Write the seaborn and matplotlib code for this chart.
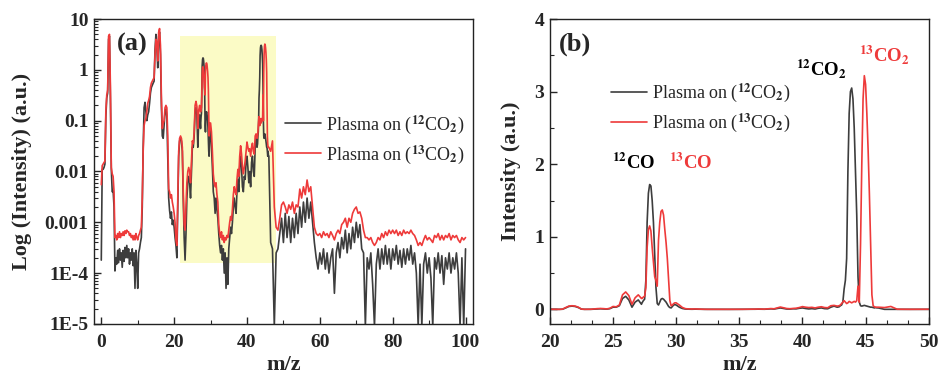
import numpy as np
import pandas as pd
import matplotlib
matplotlib.use('Agg')
import matplotlib.pyplot as plt
import seaborn as sns
from matplotlib.ticker import MultipleLocator, AutoMinorLocator, LogLocator, FuncFormatter, NullFormatter

# mass spectra, intensity (a.u.)
# segment a: m/z 0 - 27.25, every 0.25
co2_12_a = [1.8e-4, 0.011, 0.011, 0.012, 0.014, 0.12, 0.28, 0.35, 4.0, 4.6,
            0.3, 0.011, 0.004, 0.0042, 0.002, 1.1e-4, 2e-4, 1.5e-4, 2.8e-4, 1.6e-4,
            3e-4, 1.8e-4, 2.5e-4, 1.3e-4, 2.8e-4, 1.7e-4, 3.2e-4, 2e-4, 3.5e-4, 2e-4,
            3e-4, 1.5e-4, 2.5e-4, 1.8e-4, 3e-4, 1.4e-4, 2.5e-4, 5e-5, 2.8e-4, 1.5e-4,
            5e-5, 2.5e-4, 3e-4, 4e-4, 5e-4, 0.002, 0.03, 0.18, 0.23, 0.15,
            0.1, 0.13, 0.15, 0.22, 0.35, 0.45, 0.5, 0.55, 0.6, 2.5,
            5.0, 3.0, 1.1, 4.5, 5.5, 2.0, 0.2, 0.05, 0.045, 0.08,
            0.15, 0.17, 0.12, 0.02, 0.003, 0.0017, 0.0012, 0.0016, 9e-4, 0.0011,
            8e-4, 5e-4, 3.5e-4, 2e-4, 0.002, 0.02, 0.04, 0.045, 0.04, 0.025,
            0.003, 5e-4, 1.8e-4, 6e-4, 0.003, 0.006, 0.008, 0.006, 0.003, 0.01,
            0.03, 0.03, 0.05, 0.15, 0.18, 0.13, 0.03, 0.1, 0.13, 0.07]
co2_13_a = [5.5e-3, 0.013, 0.014, 0.015, 0.016, 0.15, 0.32, 0.4, 4.6, 5.0,
            0.5, 0.012, 0.009, 0.008, 0.004, 5e-4, 5.5e-4, 4.5e-4, 6e-4, 5e-4,
            6.5e-4, 5e-4, 6e-4, 5.5e-4, 6.5e-4, 5.5e-4, 6.8e-4, 6e-4, 7e-4, 6.5e-4,
            6.5e-4, 5.5e-4, 6e-4, 5e-4, 5.5e-4, 4.5e-4, 5.5e-4, 4.5e-4, 6e-4, 5e-4,
            4.5e-4, 5.5e-4, 6e-4, 7e-4, 8e-4, 0.003, 0.025, 0.08, 0.1, 0.11,
            0.15, 0.22, 0.25, 0.3, 0.45, 0.55, 0.6, 0.65, 0.7, 2.0,
            4.0, 3.5, 1.5, 5.5, 6.5, 3.0, 0.3, 0.07, 0.09, 0.1,
            0.18, 0.2, 0.18, 0.05, 0.0045, 0.004, 0.003, 0.0035, 0.0025, 0.002,
            0.0015, 0.001, 4.5e-4, 3.5e-4, 0.003, 0.025, 0.045, 0.05, 0.045, 0.03,
            0.004, 9e-4, 7e-4, 0.002, 0.006, 0.01, 0.012, 0.01, 0.006, 0.015,
            0.04, 0.035, 0.06, 0.2, 0.24, 0.19, 0.07, 0.16, 0.2, 0.15]

# segment b: m/z 27.3 - 29.9, every 0.1 (CO peaks)
co2_12_b = [0.09, 0.12, 0.14, 0.4, 1.2, 1.6, 1.72, 1.7, 1.5, 1.2,
            0.75, 0.3, 0.08, 0.06, 0.1, 0.14, 0.15, 0.14, 0.12, 0.1,
            0.07, 0.04, 0.025, 0.02, 0.04, 0.06, 0.065]
co2_13_b = [0.15, 0.17, 0.18, 0.3, 0.85, 1.1, 1.15, 1.08, 0.85, 0.65,
            0.45, 0.4, 0.32, 0.95, 1.2, 1.35, 1.37, 1.3, 1.1, 0.92,
            0.7, 0.4, 0.12, 0.05, 0.06, 0.08, 0.09]

# segment c: m/z 30.0 - 42.75, every 0.25
co2_12_c = [0.06, 0.03, 0.012, 0.004, 0.003, 0.0015, 0.003, 0.0018, 0.0012, 6e-4,
            3.5e-4, 2.5e-4, 3.5e-4, 1.8e-4, 3e-4, 1e-4, 2.5e-4, 5e-5, 2e-4, 6e-5,
            3e-4, 5e-4, 8e-4, 6e-4, 0.001, 0.002, 0.003, 0.002, 0.0015, 0.004,
            0.007, 0.004, 0.012, 0.02, 0.012, 0.005, 0.004, 0.008, 0.007, 0.015,
            0.02, 0.012, 0.006, 0.01, 0.005, 0.015, 0.02, 0.01, 0.008, 0.03,
            0.045, 0.03]
co2_13_c = [0.09, 0.06, 0.025, 0.009, 0.006, 0.005, 0.006, 0.0035, 0.0025, 9e-4,
            6e-4, 5e-4, 6.5e-4, 4.5e-4, 5.5e-4, 4e-4, 5e-4, 4.5e-4, 5.5e-4, 5e-4,
            7e-4, 0.001, 0.0013, 0.0011, 0.0018, 0.0035, 0.005, 0.004, 0.0035, 0.007,
            0.011, 0.008, 0.02, 0.032, 0.022, 0.012, 0.009, 0.012, 0.016, 0.025,
            0.038, 0.03, 0.025, 0.028, 0.02, 0.03, 0.036, 0.025, 0.022, 0.05,
            0.055, 0.045]

# segment d: m/z 42.9 - 45.9, every 0.1 (CO2 peaks)
co2_12_d = [0.035, 0.05, 0.06, 0.1, 0.28, 0.4, 0.7, 1.9, 2.7, 3.0,
            3.05, 2.9, 2.5, 1.9, 1.3, 0.45, 0.1, 0.05, 0.045, 0.05,
            0.055, 0.05, 0.045, 0.04, 0.035, 0.03, 0.03, 0.025, 0.02, 0.025, 0.02]
co2_13_d = [0.05, 0.06, 0.08, 0.1, 0.12, 0.1, 0.08, 0.09, 0.11, 0.1,
            0.09, 0.1, 0.11, 0.1, 0.12, 0.32, 0.1, 0.9, 2.0, 2.9,
            3.22, 3.1, 2.7, 2.2, 1.6, 0.9, 0.2, 0.05, 0.035, 0.03, 0.03]

# segment e: m/z 46.0 - 100.0, every 0.5
co2_12_e = [0.02, 4e-4, 3e-4, 9e-6, 2.5e-4, 3e-4, 6e-4, 0.0012, 4e-4, 0.0015,
            5e-4, 0.0013, 4e-4, 0.0012, 5e-4, 0.0015, 6e-4, 0.002, 8e-4, 0.0025,
            0.001, 0.003, 0.0012, 0.0025, 0.001, 4e-4, 2e-4, 1.2e-4, 2.5e-4, 1.5e-4,
            3e-4, 1.2e-4, 2.5e-4, 1e-4, 2e-4, 3e-4, 4e-5, 2.5e-4, 4e-4, 2e-4,
            5e-4, 3e-4, 7e-4, 2.5e-4, 6e-4, 3e-4, 8e-4, 4e-4, 0.001, 5e-4,
            9e-4, 3e-4, 2.5e-4, 9e-6, 2e-4, 1.2e-4, 2.5e-4, 6e-5, 9e-6, 1.5e-4,
            3e-4, 1.2e-4, 3e-4, 1.5e-4, 3.5e-4, 1.5e-4, 3e-4, 1.2e-4, 3e-4, 1.8e-4,
            3.5e-4, 1.5e-4, 2.8e-4, 1.3e-4, 3e-4, 1.5e-4, 3e-4, 1.8e-4, 3.5e-4, 1.5e-4,
            2.5e-4, 1e-4, 9e-6, 1.5e-4, 9e-6, 1.5e-4, 2.5e-4, 1e-4, 2e-4, 8e-5,
            9e-6, 2e-4, 1.2e-4, 2.5e-4, 1e-4, 2.2e-4, 6e-5, 2e-4, 1.2e-4, 2.5e-4,
            1e-4, 2e-4, 1.2e-4, 2.5e-4, 1e-4, 9e-6, 2e-4, 9e-6, 3e-4]
co2_13_e = [0.03, 0.025, 0.04, 0.002, 8e-4, 7e-4, 0.0012, 0.0022, 0.0025, 0.002,
            0.0015, 0.0022, 0.0018, 0.0025, 0.0015, 0.0022, 0.002, 0.0045, 0.003, 0.005,
            0.0035, 0.0068, 0.004, 0.005, 0.002, 8e-4, 6e-4, 5.5e-4, 6e-4, 5e-4,
            6.5e-4, 5.5e-4, 6e-4, 5e-4, 6.5e-4, 5.5e-4, 4.5e-4, 6e-4, 7e-4, 6e-4,
            9e-4, 0.001, 0.0012, 8e-4, 0.0012, 0.001, 0.0015, 0.0018, 0.002, 0.0015,
            0.0016, 0.0012, 7e-4, 5e-4, 5e-4, 4.5e-4, 5e-4, 4e-4, 3.5e-4, 4e-4,
            5e-4, 4.5e-4, 6e-4, 5e-4, 6.5e-4, 5.5e-4, 7e-4, 6e-4, 7e-4, 6e-4,
            7e-4, 5.5e-4, 6.5e-4, 5.5e-4, 7e-4, 6e-4, 6.5e-4, 6e-4, 7e-4, 6e-4,
            5.5e-4, 4.5e-4, 3.5e-4, 4e-4, 3.5e-4, 4.5e-4, 5.5e-4, 4.5e-4, 5e-4, 4.5e-4,
            4e-4, 5.5e-4, 5e-4, 6e-4, 4.5e-4, 5.5e-4, 4.5e-4, 5.5e-4, 5e-4, 6e-4,
            4.5e-4, 5.5e-4, 5e-4, 5.5e-4, 4.5e-4, 4e-4, 5e-4, 4.5e-4, 5e-4]

seg_start = [0.0, 27.3, 30.0, 42.9, 46.0]
seg_step = [0.25, 0.1, 0.25, 0.1, 0.5]
seg_12 = [co2_12_a, co2_12_b, co2_12_c, co2_12_d, co2_12_e]
seg_13 = [co2_13_a, co2_13_b, co2_13_c, co2_13_d, co2_13_e]

log_ticks = [1e-5, 1e-4, 1e-3, 1e-2, 1e-1, 1, 10]
log_labels = ['1E-5', '1E-4', '0.001', '0.01', '0.1', '1', '10']

lab12 = r'Plasma on ($^{12}$CO$_2$)'
lab13 = r'Plasma on ($^{13}$CO$_2$)'
BLACK = '#3d3d3d'
RED = '#ee3a3a'

# build the long table
mz, i12, i13 = [], [], []
for s0, ds, a, b in zip(seg_start, seg_step, seg_12, seg_13):
    assert len(a) == len(b)
    mz.extend(np.round(s0 + ds * np.arange(len(a)), 2))
    i12.extend(a)
    i13.extend(b)
df = pd.DataFrame({'mz': mz, 'co2_12': i12, 'co2_13': i13})

sns.set_style('ticks')
plt.rcParams['font.family'] = ['Liberation Serif', 'DejaVu Serif']
plt.rcParams['font.weight'] = 'bold'
plt.rcParams['mathtext.fontset'] = 'stix'
plt.rcParams['axes.linewidth'] = 1.0
plt.rcParams['axes.edgecolor'] = '#222222'

fig = plt.figure(figsize=(9.4, 3.74), dpi=100)
ax1 = fig.add_axes([0.100, 0.134, 0.403, 0.815])
ax2 = fig.add_axes([0.585, 0.134, 0.403, 0.815])

##############################################################################
# (a) log scale, full range
ax1.fill_between([21.5, 48], 1.6e-4, 4.6, color='#fbfbc6', lw=0, zorder=0)
sns.lineplot(data=df, x='mz', y='co2_12', ax=ax1, color=BLACK, lw=1.2, label=lab12, estimator=None)
sns.lineplot(data=df, x='mz', y='co2_13', ax=ax1, color=RED, lw=1.2, label=lab13, estimator=None)
ax1.set_yscale('log')
ax1.set_xlim(-2, 102)
ax1.set_ylim(1e-5, 10)
ax1.xaxis.set_major_locator(MultipleLocator(20))
ax1.xaxis.set_minor_locator(AutoMinorLocator(2))
ax1.set_yticks(log_ticks)
ax1.yaxis.set_major_formatter(FuncFormatter(lambda v, p: log_labels[log_ticks.index(v)] if v in log_ticks else ''))
ax1.yaxis.set_minor_locator(LogLocator(base=10, subs=np.arange(2, 10)))
ax1.yaxis.set_minor_formatter(NullFormatter())
ax1.set_xlabel('m/z', fontsize=16, fontweight='bold', labelpad=3)
ax1.set_ylabel('Log (Intensity) (a.u.)', fontsize=16, fontweight='bold', labelpad=9)
ax1.text(0.06, 0.955, '(a)', transform=ax1.transAxes, fontsize=19, fontweight='bold', va='top')
ax1.legend(loc='center left', bbox_to_anchor=(0.504, 0.605), frameon=False,
           prop={'weight': 'normal', 'size': 13}, handlelength=2.0, handletextpad=0.3,
           borderpad=0, borderaxespad=0, labelspacing=0.4)

##############################################################################
# (b) linear scale, zoom on CO / CO2
sns.lineplot(data=df, x='mz', y='co2_12', ax=ax2, color=BLACK, lw=1.2, label=lab12, estimator=None)
sns.lineplot(data=df, x='mz', y='co2_13', ax=ax2, color=RED, lw=1.2, label=lab13, estimator=None)
ax2.set_xlim(20, 50)
ax2.set_ylim(-0.2, 4)
ax2.xaxis.set_major_locator(MultipleLocator(5))
ax2.xaxis.set_minor_locator(AutoMinorLocator(3))
ax2.yaxis.set_major_locator(MultipleLocator(1))
ax2.yaxis.set_minor_locator(AutoMinorLocator(2))
ax2.set_xlabel('m/z', fontsize=16, fontweight='bold', labelpad=3)
ax2.set_ylabel('Intensity (a.u.)', fontsize=16, fontweight='bold', labelpad=10)
ax2.text(0.024, 0.955, '(b)', transform=ax2.transAxes, fontsize=19, fontweight='bold', va='top')
ax2.legend(loc='center left', bbox_to_anchor=(0.161, 0.708), frameon=False,
           prop={'weight': 'normal', 'size': 13}, handlelength=2.0, handletextpad=0.3,
           borderpad=0, borderaxespad=0, labelspacing=0.4)
ax2.text(24.9, 1.93, r'$^{\mathbf{12}}$CO', fontsize=13.5, fontweight='bold', color='black')
ax2.text(29.4, 1.93, r'$^{\mathbf{13}}$CO', fontsize=13.5, fontweight='bold', color=RED)
ax2.text(39.5, 3.23, r'$^{\mathbf{12}}$CO$_{\mathbf{2}}$', fontsize=13.5, fontweight='bold', color='black')
ax2.text(44.5, 3.42, r'$^{\mathbf{13}}$CO$_{\mathbf{2}}$', fontsize=13.5, fontweight='bold', color=RED)

for ax in (ax1, ax2):
    ax.tick_params(which='both', direction='in', top=False, right=False, labelsize=14)
    ax.tick_params(axis='y', which='both', pad=4)
    ax.tick_params(axis='x', which='both', pad=7)
    ax.tick_params(which='major', length=5, width=1)
    ax.tick_params(which='minor', length=3, width=0.8)
    for t in ax.get_xticklabels() + ax.get_yticklabels():
        t.set_fontweight('bold')

fig.savefig('out.png', dpi=100)
